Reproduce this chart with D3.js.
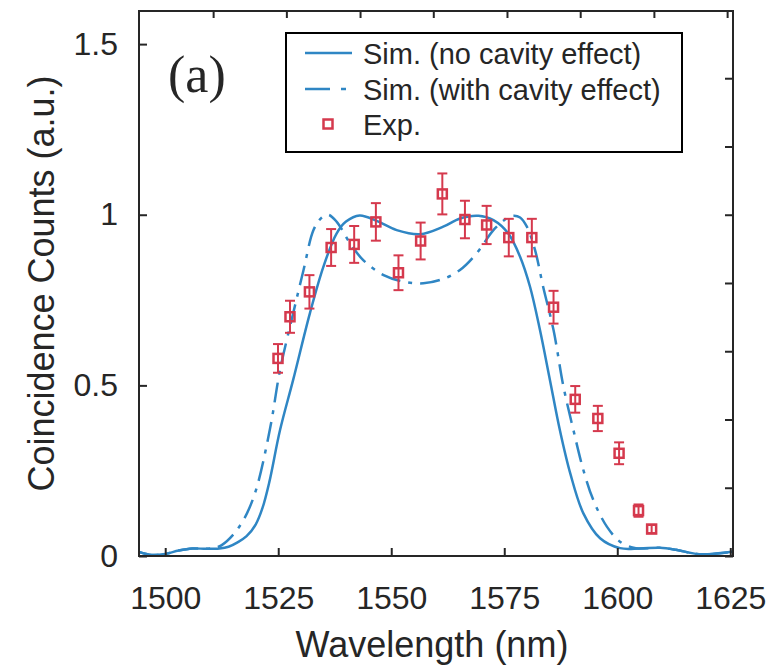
<!DOCTYPE html>
<html>
<head>
<meta charset="utf-8">
<script src="https://cdn.jsdelivr.net/npm/d3@7"></script>
<style>
  body { margin: 0; background: #fff; }
  svg { display: block; }
  text { font-family: "Liberation Sans", Arial, sans-serif; fill: #262626; }
</style>
</head>
<body>
<div id="chart"></div>
<script>
// tick values
const xTicks = [1500, 1525, 1550, 1575, 1600, 1625];
const yTicks = [0, 0.5, 1, 1.5];
const rightTicks = [0, 0.2, 0.4, 0.6, 0.8, 1.0, 1.2, 1.4];
const topTicks = [1510.6, 1526.8, 1543.1, 1559.3, 1575.6, 1591.8, 1608.1, 1624.3];

// simulation, no cavity effect (wavelength nm, counts)
const simNoCavWl = [1494.2, 1497, 1500, 1503, 1506, 1509, 1512, 1514, 1516, 1518, 1520, 1521.5, 1523,
  1525.4, 1528.3, 1532, 1535, 1537.9, 1540, 1543, 1546.8, 1551.2, 1556.4, 1561.5, 1565.2, 1569.3,
  1572.6, 1575.9, 1578.5, 1580.7, 1582.9, 1585.1, 1587.3, 1589.6, 1592.5, 1596.2, 1600.6, 1605,
  1609.5, 1613, 1617.6, 1621, 1625.6];
const simNoCavVal = [0.012, 0.003, 0.006, 0.016, 0.022, 0.021, 0.022, 0.027, 0.04, 0.058, 0.092, 0.14, 0.215,
  0.369, 0.516, 0.711, 0.848, 0.945, 0.98, 0.998, 0.982, 0.955, 0.943, 0.965, 0.989, 0.997,
  0.984, 0.945, 0.877, 0.789, 0.662, 0.516, 0.369, 0.242, 0.125, 0.052, 0.023, 0.022,
  0.024, 0.018, 0.006, 0.006, 0.013];

// simulation, with cavity effect
const simCavWl = [1494.2, 1497, 1500, 1503, 1506, 1509, 1511, 1512.5, 1515, 1517.5, 1520, 1523.2, 1525.4,
  1528.3, 1530.6, 1532.8, 1534.5, 1536, 1537.9, 1540.9, 1543.8, 1548.3, 1552.7, 1557.1, 1561.5,
  1565.2, 1568.9, 1572.6, 1575.5, 1577, 1578.5, 1580, 1581.8, 1583.6, 1585.9, 1588.1, 1590.3,
  1592.5, 1594.7, 1597.7, 1600.6, 1603.6, 1605, 1609.5, 1613, 1617.6, 1621, 1625.6];
const simCavVal = [0.012, 0.003, 0.006, 0.016, 0.022, 0.021, 0.024, 0.032, 0.062, 0.11, 0.19, 0.374, 0.545,
  0.711, 0.838, 0.955, 0.99, 1.0, 0.98, 0.916, 0.867, 0.823, 0.804, 0.799, 0.812,
  0.838, 0.887, 0.955, 0.989, 0.997, 0.992, 0.965, 0.897, 0.789, 0.662, 0.496, 0.369,
  0.252, 0.164, 0.086, 0.042, 0.024, 0.022, 0.024, 0.018, 0.006, 0.006, 0.013];

// experiment
const expWl = [1524.95, 1527.6, 1531.9, 1536.7, 1541.8, 1546.6, 1551.6, 1556.5, 1561.3, 1566.3,
  1571.1, 1576.0, 1581.1, 1585.9, 1590.7, 1595.7, 1600.4, 1604.7, 1607.6];
const expVal = [0.579, 0.701, 0.774, 0.904, 0.913, 0.979, 0.830, 0.923, 1.061, 0.986,
  0.970, 0.933, 0.933, 0.729, 0.459, 0.403, 0.301, 0.133, 0.079];
const expErr = [0.042, 0.047, 0.049, 0.054, 0.054, 0.055, 0.051, 0.054, 0.06, 0.055,
  0.056, 0.055, 0.055, 0.048, 0.039, 0.037, 0.032, 0.018, 0.012];

const legendLabels = ['Sim. (no cavity effect)', 'Sim. (with cavity effect)', 'Exp.'];

const blue = '#2f86c4';
const red = '#d5394d';
const axisColor = '#262626';
const dashDot = '20,8,4,8';

const width = 768, height = 672;
const margin = { left: 139, right: 35, top: 11, bottom: 116 };

const svg = d3.select('#chart').append('svg')
  .attr('width', width)
  .attr('height', height);

const xScale = d3.scaleLinear()
  .domain([1494.2, 1625.6])
  .range([margin.left, width - margin.right]);

const yScale = d3.scaleLinear()
  .domain([0, 1.597])
  .range([height - margin.bottom, margin.top]);

const [x0, x1] = xScale.range();
const [y0, y1] = yScale.range();

svg.append('clipPath').attr('id', 'plot-clip')
  .append('rect')
  .attr('x', x0).attr('y', y1)
  .attr('width', x1 - x0).attr('height', y0 - y1);

const line = d3.line()
  .x(d => xScale(d[0]))
  .y(d => yScale(d[1]))
  .curve(d3.curveCatmullRom.alpha(0.5));

const plot = svg.append('g').attr('clip-path', 'url(#plot-clip)');

plot.append('path')
  .datum(d3.zip(simNoCavWl, simNoCavVal))
  .attr('d', line)
  .attr('fill', 'none')
  .attr('stroke', blue)
  .attr('stroke-width', 2.5);

plot.append('path')
  .datum(d3.zip(simCavWl, simCavVal))
  .attr('d', line)
  .attr('fill', 'none')
  .attr('stroke', blue)
  .attr('stroke-width', 2.5)
  .attr('stroke-dasharray', dashDot);

// error bars and markers
const expData = expWl.map((wl, i) => ({ wl, v: expVal[i], e: expErr[i] }));
const pts = svg.append('g')
  .attr('stroke', red)
  .attr('fill', 'none');

const capHalf = 5;
const eb = pts.selectAll('g.eb')
  .data(expData)
  .join('g')
  .attr('class', 'eb');

eb.append('line')
  .attr('x1', d => xScale(d.wl)).attr('x2', d => xScale(d.wl))
  .attr('y1', d => yScale(d.v - d.e)).attr('y2', d => yScale(d.v + d.e))
  .attr('stroke-width', 2);
eb.append('line')
  .attr('x1', d => xScale(d.wl) - capHalf).attr('x2', d => xScale(d.wl) + capHalf)
  .attr('y1', d => yScale(d.v + d.e)).attr('y2', d => yScale(d.v + d.e))
  .attr('stroke-width', 2);
eb.append('line')
  .attr('x1', d => xScale(d.wl) - capHalf).attr('x2', d => xScale(d.wl) + capHalf)
  .attr('y1', d => yScale(d.v - d.e)).attr('y2', d => yScale(d.v - d.e))
  .attr('stroke-width', 2);

const sq = 9;
eb.append('rect')
  .attr('x', d => xScale(d.wl) - sq / 2)
  .attr('y', d => yScale(d.v) - sq / 2)
  .attr('width', sq).attr('height', sq)
  .attr('stroke-width', 2.5);

// axes
const xAxis = d3.axisBottom(xScale)
  .tickValues(xTicks)
  .tickFormat(d => d)
  .tickSizeInner(-8)
  .tickSizeOuter(0)
  .tickPadding(30);

const yAxis = d3.axisLeft(yScale)
  .tickValues(yTicks)
  .tickFormat(d => d)
  .tickSizeInner(-8)
  .tickSizeOuter(0)
  .tickPadding(21);

const rightAxis = d3.axisRight(yScale)
  .tickValues(rightTicks)
  .tickFormat('')
  .tickSizeInner(-8)
  .tickSizeOuter(0);

const topAxis = d3.axisTop(xScale)
  .tickValues(topTicks)
  .tickFormat('')
  .tickSizeInner(-7)
  .tickSizeOuter(0);

function styleAxis(g) {
  g.select('.domain').remove();
  g.selectAll('.tick line').attr('stroke', axisColor).attr('stroke-width', 2);
  g.selectAll('.tick text')
    .attr('fill', axisColor)
    .style('font-size', '32px')
    .style('font-family', '"Liberation Sans", Arial, sans-serif');
}

svg.append('g').attr('transform', `translate(0,${y0})`).call(xAxis).call(styleAxis);
svg.append('g').attr('transform', `translate(${x0},0)`).call(yAxis).call(styleAxis);
svg.append('g').attr('transform', `translate(${x1},0)`).call(rightAxis).call(styleAxis);
svg.append('g').attr('transform', `translate(0,${y1})`).call(topAxis).call(styleAxis);

svg.append('rect')
  .attr('x', x0).attr('y', y1)
  .attr('width', x1 - x0).attr('height', y0 - y1)
  .attr('fill', 'none')
  .attr('stroke', axisColor)
  .attr('stroke-width', 2);

// axis titles
svg.append('text')
  .attr('x', 432).attr('y', 657)
  .attr('text-anchor', 'middle')
  .style('font-size', '36px')
  .text('Wavelength (nm)');

svg.append('text')
  .attr('transform', `translate(54,${(y0 + y1) / 2}) rotate(-90)`)
  .attr('text-anchor', 'middle')
  .style('font-size', '36px')
  .text('Coincidence Counts (a.u.)');

// panel label
svg.append('text')
  .attr('x', 168).attr('y', 92)
  .style('font-family', '"Liberation Serif", "Times New Roman", serif')
  .style('font-size', '52px')
  .attr('fill', '#000')
  .text('(a)');

// legend
const legend = svg.append('g');
legend.append('rect')
  .attr('x', 286).attr('y', 33)
  .attr('width', 396).attr('height', 119)
  .attr('fill', '#fff')
  .attr('stroke', '#000')
  .attr('stroke-width', 2);

const rowY = [53, 89, 124];
legend.append('line')
  .attr('x1', 305).attr('x2', 352).attr('y1', rowY[0]).attr('y2', rowY[0])
  .attr('stroke', blue).attr('stroke-width', 2.5);
legend.append('line')
  .attr('x1', 305).attr('x2', 352).attr('y1', rowY[1]).attr('y2', rowY[1])
  .attr('stroke', blue).attr('stroke-width', 2.5)
  .attr('stroke-dasharray', '25,11,5,20');
legend.append('rect')
  .attr('x', 328 - sq / 2).attr('y', rowY[2] - sq / 2)
  .attr('width', sq).attr('height', sq)
  .attr('fill', 'none')
  .attr('stroke', red).attr('stroke-width', 2.5);

legend.selectAll('text.lg')
  .data(legendLabels)
  .join('text')
  .attr('class', 'lg')
  .attr('x', 363)
  .attr('y', (d, i) => rowY[i] + 10.5)
  .attr('fill', '#000')
  .style('font-size', '29px')
  .text(d => d);
</script>
</body>
</html>
